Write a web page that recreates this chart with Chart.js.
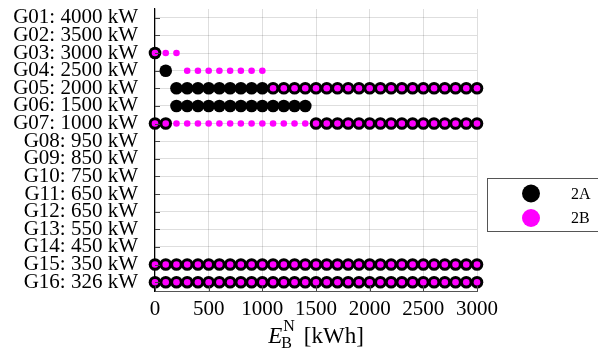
<!DOCTYPE html>
<html>
<head>
<meta charset="utf-8">
<script src="https://cdn.jsdelivr.net/npm/chart.js@4.4.1/dist/chart.umd.min.js"></script>
<style>
  html, body { margin: 0; padding: 0; background: #fff; }
  canvas { display: block; }
</style>
</head>
<body>
<canvas id="chart" width="598" height="354"></canvas>
<script>
// Generators (y categories), top to bottom
const categories = [
    'G01: 4000 kW', 'G02: 3500 kW', 'G03: 3000 kW', 'G04: 2500 kW',
    'G05: 2000 kW', 'G06: 1500 kW', 'G07: 1000 kW', 'G08: 950 kW',
    'G09: 850 kW', 'G10: 750 kW', 'G11: 650 kW', 'G12: 650 kW',
    'G13: 550 kW', 'G14: 450 kW', 'G15: 350 kW', 'G16: 326 kW'
];

// x axis ticks (kWh)
const xTicks = [0, 500, 1000, 1500, 2000, 2500, 3000];

// battery sizes E_B^N that were evaluated (kWh)
const steps = [0, 100, 200, 300, 400, 500, 600, 700, 800, 900, 1000, 1100, 1200, 1300, 1400, 1500,
    1600, 1700, 1800, 1900, 2000, 2100, 2200, 2300, 2400, 2500, 2600, 2700, 2800, 2900, 3000];

// Case 2A: sizes at which each generator is selected
const g03A = [0];
const g04A = [100];
const g05A = [200, 300, 400, 500, 600, 700, 800, 900, 1000, 1100, 1200, 1300, 1400, 1500, 1600,
    1700, 1800, 1900, 2000, 2100, 2200, 2300, 2400, 2500, 2600, 2700, 2800, 2900, 3000];
const g06A = [200, 300, 400, 500, 600, 700, 800, 900, 1000, 1100, 1200, 1300, 1400];
const g07A = [0, 100, 1500, 1600, 1700, 1800, 1900, 2000, 2100, 2200, 2300, 2400, 2500, 2600,
    2700, 2800, 2900, 3000];
const g15A = steps;
const g16A = steps;

// Case 2B
const g03B = [0, 100, 200];
const g04B = [300, 400, 500, 600, 700, 800, 900, 1000];
const g05B = [1100, 1200, 1300, 1400, 1500, 1600, 1700, 1800, 1900, 2000, 2100, 2200, 2300, 2400,
    2500, 2600, 2700, 2800, 2900, 3000];
const g07B = steps;
const g15B = steps;
const g16B = steps;

const rows2A = [[2, g03A], [3, g04A], [4, g05A], [5, g06A], [6, g07A], [14, g15A], [15, g16A]];
const rows2B = [[2, g03B], [3, g04B], [4, g05B], [6, g07B], [14, g15B], [15, g16B]];

function toPoints(rows) {
    const pts = [];
    rows.forEach(([idx, xs]) => {
        xs.forEach(x => pts.push({ x: x, y: categories[idx] }));
    });
    return pts;
}

const SERIF = '"Liberation Serif", "Times New Roman", serif';

// inner tick marks, like pgfplots
const innerTicks = {
    id: 'innerTicks',
    afterDatasetsDraw(chart) {
        const { ctx, chartArea, scales } = chart;
        ctx.save();
        ctx.strokeStyle = '#444';
        ctx.lineWidth = 1;
        ctx.beginPath();
        scales.y.ticks.forEach((t, i) => {
            const py = Math.round(scales.y.getPixelForTick(i)) + 0.5;
            ctx.moveTo(chartArea.left, py);
            ctx.lineTo(chartArea.left + 5, py);
        });
        scales.x.ticks.forEach((t, i) => {
            const px = Math.round(scales.x.getPixelForTick(i)) + 0.5;
            ctx.moveTo(px, chartArea.bottom);
            ctx.lineTo(px, chartArea.bottom - 5);
        });
        ctx.stroke();
        ctx.restore();
    }
};

// x axis title with sub/superscript: E_B^N [kWh]
const xTitle = {
    id: 'xTitle',
    afterDraw(chart) {
        const { ctx, chartArea } = chart;
        const cx = (chartArea.left + chartArea.right) / 2;
        const base = 343;
        const gap = 9;
        ctx.save();
        ctx.fillStyle = '#000';
        ctx.textBaseline = 'alphabetic';
        ctx.textAlign = 'left';
        const fE = 'italic 23px ' + SERIF;
        const fS = '16px ' + SERIF;
        const fT = '23px ' + SERIF;
        ctx.font = fE; const wE = ctx.measureText('E').width;
        ctx.font = fS; const wN = ctx.measureText('N').width; const wB = ctx.measureText('B').width;
        ctx.font = fT; const wT = ctx.measureText('[kWh]').width;
        const wS = Math.max(wN, wB);
        const total = wE + 1 + wS + gap + wT;
        let x = cx - total / 2;
        ctx.font = fE; ctx.fillText('E', x, base); x += wE + 1;
        ctx.font = fS; ctx.fillText('N', x, base - 12); ctx.fillText('B', x - 2, base + 5); x += wS + gap;
        ctx.font = fT; ctx.fillText('[kWh]', x, base);
        ctx.restore();
    }
};

// boxed legend to the right of the plot
const boxLegend = {
    id: 'boxLegend',
    afterDraw(chart) {
        const { ctx } = chart;
        ctx.save();
        ctx.fillStyle = '#fff';
        ctx.strokeStyle = '#555';
        ctx.lineWidth = 1;
        ctx.fillRect(487.5, 178.5, 130, 53);
        ctx.strokeRect(487.5, 178.5, 130, 53);
        ctx.font = '16px ' + SERIF;
        ctx.textBaseline = 'middle';
        ctx.textAlign = 'left';
        const items = [...chart.data.datasets].sort((a, b) => a.label.localeCompare(b.label));
        items.forEach((ds, i) => {
            const y = 193.5 + i * 24.5;
            ctx.fillStyle = ds.legendColor;
            ctx.beginPath();
            ctx.arc(531, y, 9, 0, Math.PI * 2);
            ctx.fill();
            ctx.fillStyle = '#000';
            ctx.fillText(ds.label, 571, y + 1);
        });
        ctx.restore();
    }
};

function noPad(scale) {
    scale.paddingTop = 0;
    scale.paddingBottom = 0;
    scale.paddingLeft = 0;
    scale.paddingRight = 0;
}

function initChart() {
    const ctx = document.getElementById('chart').getContext('2d');
    new Chart(ctx, {
        type: 'scatter',
        data: {
            datasets: [{
                label: '2A',
                data: toPoints(rows2A),
                backgroundColor: '#000',
                borderColor: '#000',
                legendColor: '#000',
                pointRadius: 6.3,
                pointBorderWidth: 0,
                order: 2,
                clip: false
            }, {
                label: '2B',
                data: toPoints(rows2B),
                backgroundColor: '#ff00ff',
                borderColor: '#ff00ff',
                legendColor: '#ff00ff',
                pointRadius: 3.3,
                pointBorderWidth: 0,
                order: 1,
                clip: false
            }]
        },
        options: {
            responsive: false,
            animation: false,
            layout: { padding: { top: 9, right: 121, left: 0, bottom: 0 } },
            plugins: {
                legend: { display: false },
                tooltip: { enabled: false }
            },
            scales: {
                x: {
                    type: 'linear',
                    min: 0,
                    max: 3000,
                    afterFit(scale) { scale.height = 63; noPad(scale); },
                    afterBuildTicks(scale) { scale.ticks = xTicks.map(v => ({ value: v })); },
                    ticks: {
                        color: '#000',
                        font: { family: SERIF, size: 21 },
                        padding: 6,
                        maxRotation: 0,
                        callback: v => String(v)
                    },
                    grid: { color: 'rgba(0,0,0,0.13)', drawTicks: false },
                    border: { color: '#555', width: 1 }
                },
                y: {
                    type: 'category',
                    labels: categories,
                    offset: true,
                    afterFit(scale) { scale.width = 155; noPad(scale); },
                    ticks: {
                        color: '#000',
                        font: { family: SERIF, size: 21 },
                        padding: 17,
                        autoSkip: false
                    },
                    grid: { color: 'rgba(0,0,0,0.13)', drawTicks: false },
                    border: { color: '#000', width: 1.2 }
                }
            }
        },
        plugins: [innerTicks, xTitle, boxLegend]
    });
}

document.addEventListener('DOMContentLoaded', initChart);
</script>
</body>
</html>
